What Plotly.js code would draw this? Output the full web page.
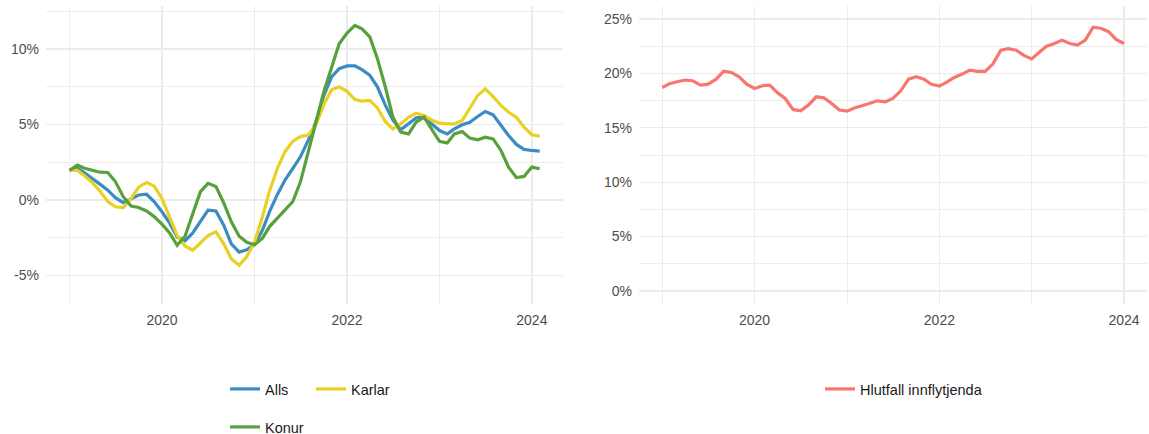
<!DOCTYPE html>
<html>
<head>
<meta charset="utf-8">
<script src="https://cdn.plot.ly/plotly-3.0.1.min.js"></script>
<style>
  html, body { margin: 0; padding: 0; background: #ffffff; }
  #chart { width: 1149px; height: 434px; }
</style>
</head>
<body>
<div id="chart"></div>
<script>
// Yearly change (%), monthly from January 2019
const alls = [
  2.0, 2.1, 1.8, 1.45, 1.05, 0.65, 0.15, -0.18, 0.1, 0.33, 0.38, -0.1,
  -0.78, -1.55, -2.45, -2.7, -2.2, -1.45, -0.67, -0.73, -1.67, -2.9, -3.45, -3.3,
  -2.95, -2.0, -0.77, 0.37, 1.32, 2.1, 2.86, 3.96, 5.2, 6.9, 8.15, 8.7,
  8.88, 8.88, 8.63, 8.26, 7.5, 6.28, 5.3, 4.65, 5.04, 5.44, 5.48, 5.04,
  4.6, 4.38, 4.71, 4.98, 5.15, 5.53, 5.86, 5.64, 4.93, 4.27, 3.68, 3.35,
  3.28, 3.24
];
const karlar = [
  1.96, 1.96, 1.6, 1.15, 0.6, -0.1, -0.45, -0.5, 0.1, 0.85, 1.15, 0.93,
  0.1, -1.1, -2.35, -3.05, -3.33, -2.85, -2.35, -2.1, -2.9, -3.9, -4.33, -3.75,
  -2.8, -1.1, 0.6, 2.1, 3.2, 3.9, 4.2, 4.3, 5.0, 6.3, 7.3, 7.5,
  7.2, 6.65, 6.55, 6.6, 6.1, 5.2, 4.7, 5.04, 5.48, 5.75, 5.6, 5.3,
  5.09, 5.04, 5.04, 5.26, 6.04, 6.92, 7.36, 6.85, 6.26, 5.81, 5.48, 4.82,
  4.32, 4.23
];
const konur = [
  1.96, 2.31, 2.1, 1.96, 1.84, 1.82, 1.22, 0.22, -0.4, -0.5, -0.73, -1.1,
  -1.6, -2.2, -3.0, -2.4, -0.9, 0.55, 1.1, 0.9, -0.2, -1.45, -2.4, -2.8,
  -2.97, -2.53, -1.76, -1.2, -0.66, -0.1, 1.2, 3.3, 5.2, 7.15, 8.8, 10.35,
  11.05, 11.56, 11.34, 10.8, 9.36, 7.5, 5.5, 4.5, 4.38, 5.15, 5.48, 4.71,
  3.88, 3.77, 4.38, 4.54, 4.1, 3.99, 4.16, 4.05, 3.28, 2.18, 1.48, 1.56,
  2.18, 2.07
];
// Share of immigrants (%), monthly from January 2019
const hlutfall = [
  18.71, 19.08, 19.23, 19.39, 19.33, 18.93, 19.02, 19.45, 20.21, 20.09, 19.69, 19.02,
  18.62, 18.87, 18.93, 18.22, 17.7, 16.69, 16.56, 17.09, 17.85, 17.76, 17.24, 16.63,
  16.53, 16.84, 17.02, 17.24, 17.48, 17.39, 17.7, 18.4, 19.47, 19.69, 19.47, 19.0,
  18.84, 19.22, 19.63, 19.94, 20.31, 20.19, 20.19, 20.88, 22.13, 22.28, 22.13, 21.66,
  21.34, 21.97, 22.5, 22.75, 23.06, 22.75, 22.6, 23.06, 24.25, 24.16, 23.84, 23.13,
  22.75
];

const seriesNames = ['Alls', 'Karlar', 'Konur', 'Hlutfall innflytjenda'];
const seriesColors = ['#3b8cc2', '#e9d123', '#58a03b', '#f8766d'];

const leftTickVals = [-5, 0, 5, 10];
const leftTickText = ['-5%', '0%', '5%', '10%'];
const rightTickVals = [0, 5, 10, 15, 20, 25];
const rightTickText = ['0%', '5%', '10%', '15%', '20%', '25%'];

// monthly date labels starting at January 2019
function monthSeries(n) {
  const out = [];
  for (let i = 0; i < n; i++) {
    const y = 2019 + Math.floor(i / 12);
    const m = (i % 12) + 1;
    out.push(y + '-' + String(m).padStart(2, '0') + '-01');
  }
  return out;
}

const W = 1149, H = 434;
const fontFamily = '"Liberation Sans", Arial, sans-serif';
const gridColor = '#ebebeb';

function lineTrace(values, idx, xa, ya, legendId) {
  return {
    type: 'scatter',
    mode: 'lines',
    x: monthSeries(values.length),
    y: values,
    name: seriesNames[idx],
    xaxis: xa,
    yaxis: ya,
    legend: legendId,
    line: { color: seriesColors[idx], width: 3.2 },
    hoverinfo: 'x+y+name'
  };
}

const data = [
  lineTrace(alls, 0, 'x', 'y', 'legend'),
  lineTrace(karlar, 1, 'x', 'y', 'legend2'),
  lineTrace(konur, 2, 'x', 'y', 'legend3'),
  lineTrace(hlutfall, 3, 'x2', 'y2', 'legend4')
];

function xAxis(domain, range, anchor) {
  return {
    type: 'date',
    domain: domain,
    range: range,
    anchor: anchor,
    tickmode: 'linear',
    tick0: '2020-01-01',
    dtick: 'M24',
    tickformat: '%Y',
    showgrid: true,
    gridcolor: gridColor,
    gridwidth: 1.3,
    minor: { tickmode: 'linear', tick0: '2019-01-01', dtick: 'M12', showgrid: true, gridcolor: gridColor, gridwidth: 0.9 },
    zeroline: false,
    showline: false,
    ticks: '',
    ticklabelstandoff: 6,
    tickfont: { family: fontFamily, size: 14, color: '#4d4d4d' },
    automargin: false,
    fixedrange: true
  };
}

function yAxis(domain, range, vals, text, anchor) {
  return {
    domain: domain,
    range: range,
    anchor: anchor,
    tickmode: 'array',
    tickvals: vals,
    ticktext: text,
    showgrid: true,
    gridcolor: gridColor,
    gridwidth: 1.3,
    minor: { tickmode: 'linear', tick0: 0, dtick: 2.5, showgrid: true, gridcolor: gridColor, gridwidth: 0.9 },
    zeroline: false,
    showline: false,
    ticks: '',
    ticklabelstandoff: 6,
    tickfont: { family: fontFamily, size: 14, color: '#4d4d4d' },
    automargin: false,
    fixedrange: true
  };
}

const yDomain = [1 - 304 / H, 1 - 6 / H];

// legends are placed against the whole figure so they never push the margins
function legendAt(px, py) {
  return {
    xref: 'container',
    yref: 'container',
    x: px / W,
    xanchor: 'left',
    y: 1 - py / H,
    yanchor: 'middle',
    orientation: 'h',
    bgcolor: 'rgba(0,0,0,0)',
    borderwidth: 0,
    font: { family: fontFamily, size: 14.5, color: '#1a1a1a' }
  };
}

const layout = {
  width: W,
  height: H,
  margin: { l: 0, r: 0, t: 0, b: 0, autoexpand: false },
  paper_bgcolor: '#ffffff',
  plot_bgcolor: '#ffffff',
  showlegend: true,
  xaxis: xAxis([46 / W, 563 / W], ['2018-09-30', '2024-05-03'], 'y'),
  yaxis: yAxis(yDomain, [-6.89, 12.85], leftTickVals, leftTickText, 'x'),
  xaxis2: xAxis([639 / W, 1147 / W], ['2018-10-01', '2024-04-01'], 'y2'),
  yaxis2: yAxis(yDomain, [-1.2, 26.2], rightTickVals, rightTickText, 'x2'),
  legend: legendAt(225, 389),
  legend2: legendAt(311, 389),
  legend3: legendAt(225, 427),
  legend4: legendAt(820, 389)
};

Plotly.newPlot('chart', data, layout, { displayModeBar: false, staticPlot: true });
</script>
</body>
</html>
